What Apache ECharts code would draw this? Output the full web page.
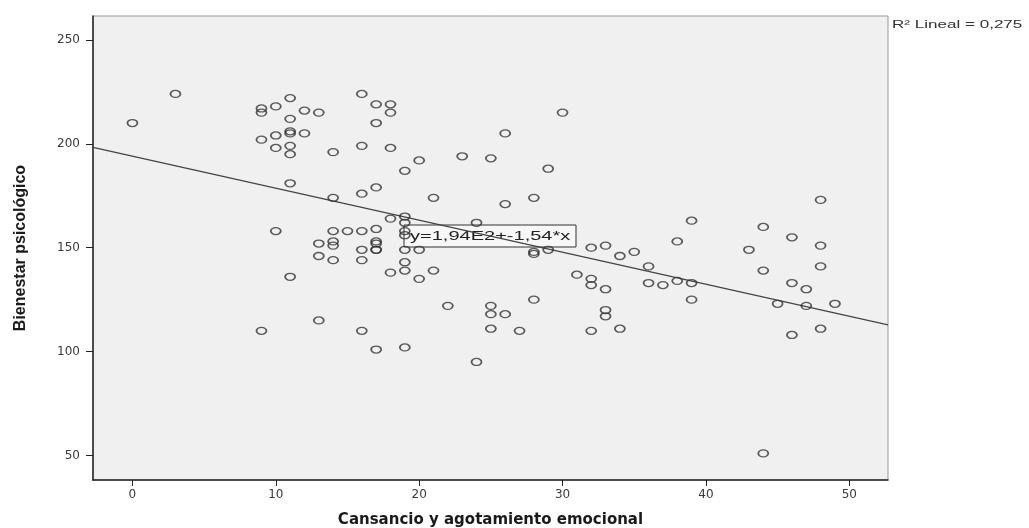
<!DOCTYPE html>
<html>
<head>
<meta charset="utf-8">
<script src="https://cdn.jsdelivr.net/npm/echarts@6/dist/echarts.min.js"></script>
<style>
  html, body { margin: 0; padding: 0; background: #fff; }
  #chart { width: 1029px; height: 528px; }
</style>
</head>
<body>
<div id="chart"></div>
<script>
// Cansancio y agotamiento emocional (x) / Bienestar psicologico (y)
var cansancio = [
  0, 3,
  9, 9, 9, 9,
  10, 10, 10, 10,
  11, 11, 11, 11, 11, 11, 11, 11,
  12, 12,
  13, 13, 13, 13,
  14, 14, 14, 14, 14, 14,
  15,
  16, 16, 16, 16, 16, 16, 16,
  17, 17, 17, 17, 17, 17, 17, 17, 17,
  18, 18, 18, 18, 18,
  19, 19, 19, 19, 19, 19, 19, 19, 19,
  20, 20, 20,
  21, 21,
  22, 23,
  24, 24,
  25, 25, 25, 25,
  26, 26, 26,
  27,
  28, 28, 28, 28,
  29, 29,
  30, 31,
  32, 32, 32, 32,
  33, 33, 33, 33,
  34, 34,
  35,
  36, 36,
  37,
  38, 38,
  39, 39, 39,
  43,
  44, 44, 44,
  45,
  46, 46, 46,
  47, 47,
  48, 48, 48, 48,
  49
];
var bienestar = [
  210, 224,
  217, 215, 202, 110,
  218, 204, 198, 158,
  222, 212, 206, 205, 199, 195, 181, 136,
  216, 205,
  215, 152, 146, 115,
  196, 174, 158, 153, 151, 144,
  158,
  224, 199, 176, 158, 149, 144, 110,
  219, 210, 179, 159, 153, 152, 149, 149, 101,
  219, 215, 198, 164, 138,
  187, 165, 162, 158, 156, 149, 143, 139, 102,
  192, 149, 135,
  174, 139,
  122, 194,
  162, 95,
  193, 122, 118, 111,
  205, 171, 118,
  110,
  174, 148, 147, 125,
  188, 149,
  215, 137,
  150, 135, 132, 110,
  151, 130, 120, 117,
  146, 111,
  148,
  141, 133,
  132,
  153, 134,
  163, 133, 125,
  149,
  160, 139, 51,
  123,
  155, 133, 108,
  130, 122,
  173, 151, 141, 111,
  123
];
var xTicks = [0, 10, 20, 30, 40, 50];
var yTicks = [50, 100, 150, 200, 250];

// recta de ajuste: y = 1,94E2 + -1,54*x
var intercepto = 194;
var pendiente = -1.54;

var xMin = -2.75, xMax = 52.7;
var yMin = 38.2, yMax = 261.5;

var puntos = [];
for (var i = 0; i < cansancio.length; i++) {
  puntos.push([cansancio[i], bienestar[i]]);
}
var recta = [
  [xMin, intercepto + pendiente * xMin],
  [xMax, intercepto + pendiente * xMax]
];

var chart = echarts.init(document.getElementById('chart'));
var option = {
  backgroundColor: '#fff',
  animation: false,
  grid: {
    left: 93,
    right: 141,
    top: 16,
    bottom: 48,
    containLabel: false,
    outerBoundsMode: 'none',
    show: true,
    backgroundColor: '#f0f0f0',
    borderColor: '#999',
    borderWidth: 1
  },
  xAxis: {
    type: 'value',
    min: xMin,
    max: xMax,
    name: 'Cansancio y agotamiento emocional',
    nameLocation: 'middle',
    nameGap: 33,
    nameTextStyle: {
      fontFamily: 'DejaVu Sans',
      fontWeight: 'bold',
      fontSize: 15,
      color: '#1a1a1a'
    },
    axisLine: { onZero: false, lineStyle: { color: '#222', width: 1.5 } },
    axisTick: { show: true, length: 6, customValues: xTicks, lineStyle: { color: '#222' } },
    axisLabel: {
      customValues: xTicks,
      margin: 9,
      fontFamily: 'DejaVu Sans',
      fontSize: 12,
      color: '#3a3a3a'
    },
    splitLine: { show: false }
  },
  yAxis: {
    type: 'value',
    min: yMin,
    max: yMax,
    name: 'Bienestar psicológico',
    nameLocation: 'middle',
    nameGap: 64,
    nameTextStyle: {
      fontFamily: 'Liberation Sans',
      fontWeight: 'bold',
      fontSize: 16,
      color: '#1a1a1a'
    },
    axisLine: { show: true, onZero: false, lineStyle: { color: '#222', width: 1.5 } },
    axisTick: { show: true, length: 7, customValues: yTicks, lineStyle: { color: '#222' } },
    axisLabel: {
      customValues: yTicks,
      margin: 13,
      fontFamily: 'DejaVu Sans',
      fontSize: 12,
      color: '#3a3a3a'
    },
    splitLine: { show: false }
  },
  series: [
    {
      type: 'line',
      data: recta,
      symbol: 'none',
      silent: true,
      z: 1,
      lineStyle: { color: '#444', width: 1.2 }
    },
    {
      type: 'scatter',
      data: puntos,
      symbol: 'circle',
      symbolSize: [10, 7],
      z: 2,
      itemStyle: {
        color: 'rgba(0,0,0,0)',
        borderColor: '#333',
        borderWidth: 1.5
      }
    }
  ],
  graphic: [
    {
      type: 'group',
      x: 404,
      y: 225,
      z: 100,
      children: [
        {
          type: 'rect',
          shape: { x: 0, y: 0, width: 172, height: 22 },
          style: { fill: '#f7f7f7', stroke: '#333', lineWidth: 1 }
        },
        {
          type: 'text',
          x: 6,
          y: 11,
          scaleX: 1.54,
          style: {
            text: 'y=1,94E2+-1,54*x',
            font: '13px "Liberation Sans"',
            fill: '#222',
            verticalAlign: 'middle'
          }
        }
      ]
    },
    {
      type: 'text',
      x: 892,
      y: 25,
      z: 100,
      scaleX: 1.55,
      style: {
        text: 'R² Lineal = 0,275',
        font: '11px "Liberation Sans"',
        fill: '#333',
        verticalAlign: 'middle'
      }
    }
  ]
};
chart.setOption(option);
</script>
</body>
</html>
